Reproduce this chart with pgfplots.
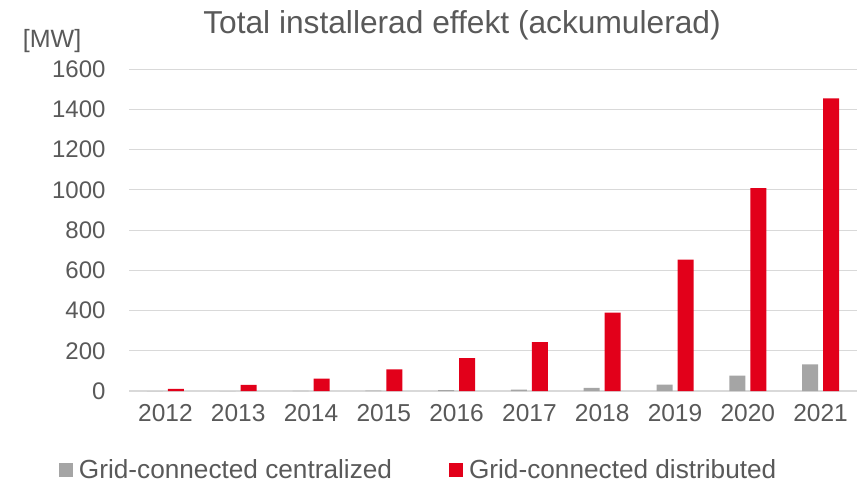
\documentclass[border=0pt]{standalone}
\usepackage{pgfplots}
\pgfplotsset{compat=1.18}
\usepackage{fontspec}
\setmainfont{Liberation Sans}
\definecolor{txt}{HTML}{595959}
\definecolor{gridc}{HTML}{D9D9D9}
\definecolor{cgray}{HTML}{A5A5A5}
\definecolor{cred}{HTML}{E2001A}
\begin{document}
\begin{tikzpicture}
\path[use as bounding box] (0,0) rectangle (865bp,484bp);
\begin{axis}[
  at={(129bp,93bp)}, anchor=south west,
  scale only axis, width=728bp, height=321.7bp,
  ymin=0, ymax=1600, ytick={0,200,...,1600},
  xmin=-0.5, xmax=9.5,
  xtick={0,...,9},
  xticklabels={2012,2013,2014,2015,2016,2017,2018,2019,2020,2021},
  ybar=5bp, bar width=16bp,
  axis lines*=left,
  y axis line style={draw=none},
  x axis line style={draw=gridc, line width=1.1bp, -},
  ymajorgrids, xmajorgrids=false,
  grid style={draw=gridc, line width=1.1bp},
  major tick length=0pt,
  tick style={draw=none},
  /pgf/number format/assume math mode=true,
  /pgf/number format/1000 sep={},
  yticklabel style={font=\fontsize{24bp}{28bp}\selectfont, text=txt, xshift=-20bp},
  xticklabel style={font=\fontsize{24.5bp}{28bp}\selectfont, text=txt, yshift=-10bp},
  legend columns=2,
  legend cell align=left,
  legend style={at={(-0.0962,-0.2456)}, anchor=west, draw=none, fill=none,
    inner sep=0pt, outer sep=0pt,
    font=\fontsize{26.2bp}{30bp}\selectfont, text=txt,
    nodes={inner sep=0pt, outer sep=0pt},
    /tikz/column 2/.style={column sep=57bp},
    /tikz/every odd column/.append style={column sep=6bp}},
  legend image code/.code={\fill[#1,draw=none] (0bp,-7bp) rectangle (14bp,7bp);},
  clip=false,
]
\addplot[draw=none, fill=cgray] coordinates {(0,0) (1,0) (2,1) (3,2) (4,4) (5,7) (6,15) (7,32) (8,77) (9,133)};
\addlegendentry{Grid-connected centralized}
\addplot[draw=none, fill=cred] coordinates {(0,10) (1,31) (2,62) (3,107) (4,163) (5,243) (6,390) (7,653) (8,1009) (9,1455)};
\addlegendentry{Grid-connected distributed}
\end{axis}
\node[anchor=base, text=txt, font=\fontsize{31.7bp}{36bp}\selectfont, inner sep=0pt] at (462bp,450.7bp) {Total installerad effekt (ackumulerad)};
\node[anchor=base west, text=txt, font=\fontsize{25bp}{28bp}\selectfont, inner sep=0pt] at (22.7bp,436bp) {[MW]};
\end{tikzpicture}
\end{document}
